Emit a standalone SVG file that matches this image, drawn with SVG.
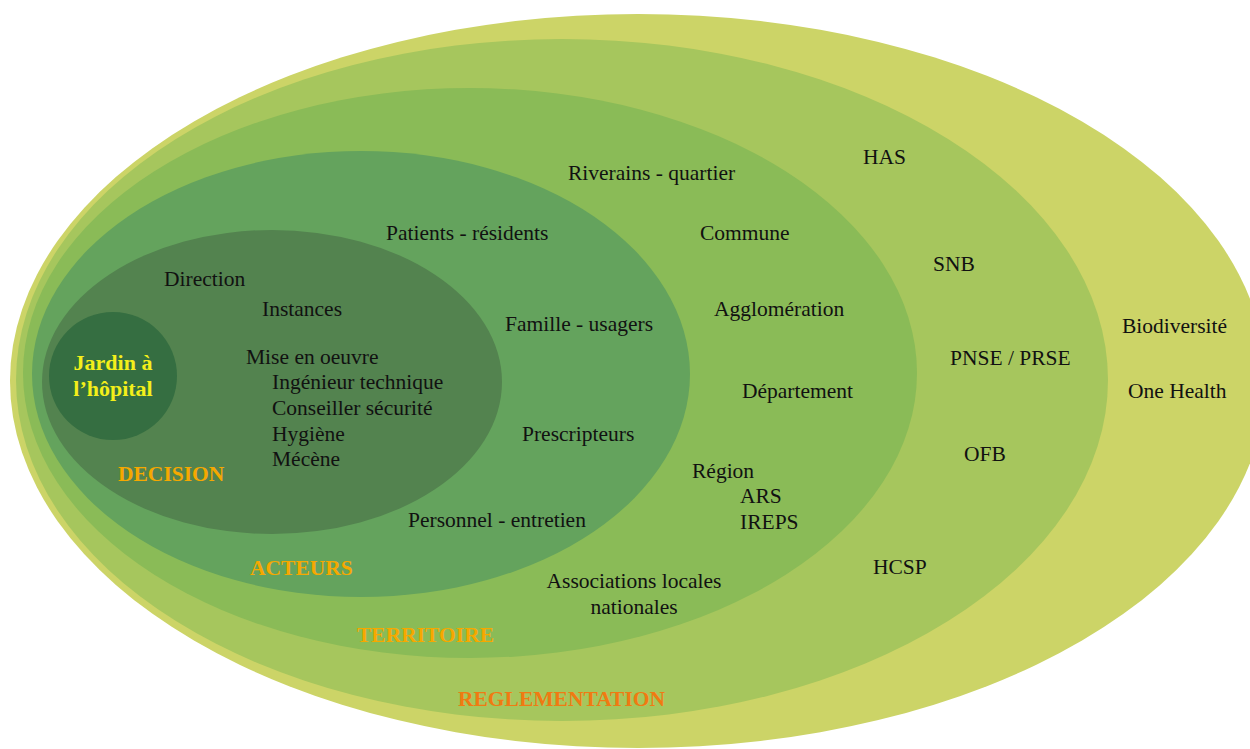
<svg xmlns="http://www.w3.org/2000/svg" width="1250" height="749" viewBox="0 0 1250 749">
<style>
.t{font-family:"Liberation Serif","Times New Roman",serif;font-size:21.5px;fill:#111;}
.lab{font-family:"Liberation Serif","Times New Roman",serif;font-size:21.5px;font-weight:bold;fill:#F6A800;}
.reg{fill:#F07A12;}
.jar{font-family:"Liberation Serif","Times New Roman",serif;font-size:22px;font-weight:bold;fill:#F4EF1A;}
</style>
<rect width="1250" height="749" fill="#ffffff"/>
<g id="reglementation-outer">
<ellipse cx="638" cy="381" rx="628" ry="367" fill="#CCD467"/>
<text class="t" x="1122" y="333">Biodiversité</text>
<text class="t" x="1128" y="398">One Health</text>
</g>
<g id="reglementation">
<ellipse cx="562" cy="380" rx="546" ry="341" fill="#A6C65D"/>
<text class="t" x="863" y="164">HAS</text>
<text class="t" x="933" y="271">SNB</text>
<text class="t" x="950" y="365">PNSE / PRSE</text>
<text class="t" x="964" y="461">OFB</text>
<text class="t" x="873" y="574">HCSP</text>
<text class="lab reg" x="458" y="706">REGLEMENTATION</text>
</g>
<g id="territoire">
<ellipse cx="470" cy="373" rx="447" ry="285" fill="#8ABB57"/>
<text class="t" x="568" y="180">Riverains - quartier</text>
<text class="t" x="700" y="240">Commune</text>
<text class="t" x="714" y="316">Agglomération</text>
<text class="t" x="742" y="398">Département</text>
<text class="t" x="692" y="478">Région</text>
<text class="t" x="740" y="503">ARS</text>
<text class="t" x="740" y="529">IREPS</text>
<text class="t" x="634" y="588" text-anchor="middle">Associations locales</text>
<text class="t" x="634" y="614" text-anchor="middle">nationales</text>
<text class="lab" x="357" y="642">TERRITOIRE</text>
</g>
<g id="acteurs">
<ellipse cx="361" cy="374" rx="329" ry="223" fill="#64A35D"/>
<text class="t" x="386" y="240">Patients - résidents</text>
<text class="t" x="505" y="331">Famille - usagers</text>
<text class="t" x="522" y="441">Prescripteurs</text>
<text class="t" x="408" y="527">Personnel - entretien</text>
<text class="lab" x="250" y="575">ACTEURS</text>
</g>
<g id="decision">
<ellipse cx="272" cy="382" rx="230" ry="152" fill="#53834F"/>
<text class="t" x="164" y="286">Direction</text>
<text class="t" x="262" y="316">Instances</text>
<text class="t" x="246" y="364">Mise en oeuvre</text>
<text class="t" x="272" y="389">Ingénieur technique</text>
<text class="t" x="272" y="415">Conseiller sécurité</text>
<text class="t" x="272" y="441">Hygiène</text>
<text class="t" x="272" y="466">Mécène</text>
<text class="lab" x="118" y="481">DECISION</text>
</g>
<g id="jardin">
<ellipse cx="113" cy="376" rx="64" ry="64" fill="#356E41"/>
<text class="jar" x="113" y="370" text-anchor="middle">Jardin à</text>
<text class="jar" x="113" y="396" text-anchor="middle">l’hôpital</text>
</g>
<g id="connectors"></g>
</svg>
